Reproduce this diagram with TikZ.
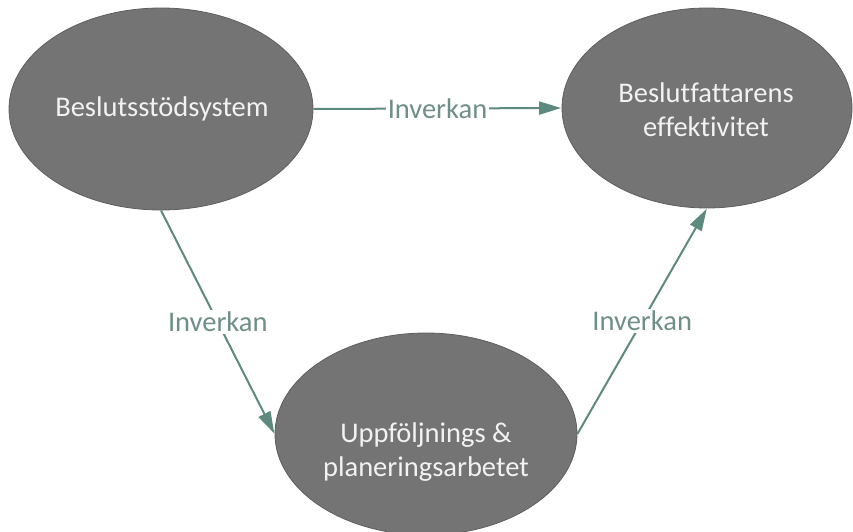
\documentclass[tikz,border=0pt]{standalone}
\usepackage{fontspec}
\setmainfont[Ligatures={NoCommon}]{Carlito}
\usetikzlibrary{shapes.geometric,arrows.meta}
\definecolor{blobfill}{HTML}{747474}
\definecolor{blobedge}{HTML}{5E5E5E}
\definecolor{blobtext}{HTML}{F2F2F2}
\definecolor{linkline}{HTML}{5E897E}
\definecolor{linktext}{HTML}{6F8E88}
\tikzset{
  blob/.style={ellipse, fill=blobfill, draw=blobedge, line width=0.8pt, inner sep=0pt},
  blobtxt/.style={text=blobtext, align=center, font=\fontsize{28.5}{34}\selectfont},
  link/.style={draw=linkline, line width=2pt, -{Triangle[length=22pt,width=13pt]}, shorten >=0.5pt},
  linklabel/.style={fill=white, text=linktext, inner sep=2pt, font=\fontsize{28.5}{32}\selectfont}
}
\begin{document}
\begin{tikzpicture}[x=1pt,y=-1pt]
\useasboundingbox (0,0) rectangle (853,532);
% the three ellipses
\node[blob, minimum width=304pt, minimum height=202pt] (L) at (161,109) {};
\node[blob, minimum width=290pt, minimum height=200pt] (R) at (707,108) {};
\node[blob, minimum width=302pt, minimum height=202pt] (B) at (426,434) {};
% their captions
\node[blobtxt] (Ltxt) at (162,109) {Beslutsstödsystem};
\node[blobtxt] (Rtxt) at (706,110) {Beslutfattarens\\effektivitet};
\node[blobtxt] (Btxt) at (426,452) {Uppföljnings \&\\planeringsarbetet};
% influence links
\draw[link] (L.east) -- node[linklabel] (l1) {Inverkan} (R.west);
\draw[link] (L.south) -- node[linklabel] (l2) {Inverkan} (B.west);
\draw[link] (B.east) -- node[linklabel] (l3) {Inverkan} (R.south);
\end{tikzpicture}
\end{document}
